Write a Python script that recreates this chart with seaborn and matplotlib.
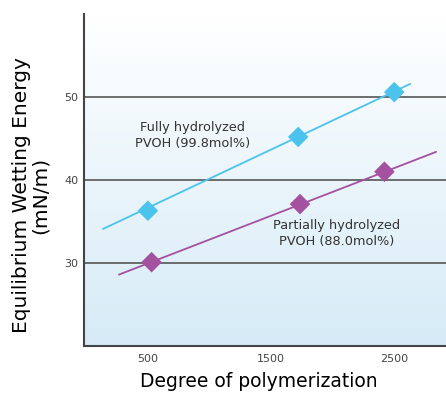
import numpy as np
import pandas as pd
import matplotlib
matplotlib.use("Agg")
import matplotlib.pyplot as plt
import seaborn as sns

# measured points
full_x = [500, 1720, 2500]
full_y = [36.3, 45.2, 50.6]
part_x = [530, 1735, 2420]
part_y = [30.1, 37.1, 41.0]

# trend line ends
full_line_x = [135, 2630]
full_line_y = [34.1, 51.6]
part_line_x = [265, 2840]
part_line_y = [28.6, 43.4]

x_ticks = [500, 1500, 2500]
y_ticks = [30, 40, 50]

CYAN = "#4cc3ec"
MAGENTA = "#a4519f"

sns.set_theme(style="white")
plt.rcParams["font.family"] = ["DejaVu Sans"]

fig = plt.figure(figsize=(4.46, 3.94), dpi=100)
ax = fig.add_axes([0.188, 0.122, 0.812, 0.842])

# background gradient: white at top, light blue at bottom
grad = np.linspace(0, 1, 256).reshape(-1, 1)
cmap = matplotlib.colors.LinearSegmentedColormap.from_list("bg", ["#d6ebf7", "#ffffff"])
ax.imshow(grad, aspect="auto", cmap=cmap, origin="lower",
          extent=[-20, 2920, 20, 60], zorder=0)

for y in y_ticks:
    ax.axhline(y, color="#555555", lw=1.2, zorder=1)

sns.lineplot(x=full_line_x, y=full_line_y, ax=ax, color=CYAN, lw=1.3, zorder=2)
sns.lineplot(x=part_line_x, y=part_line_y, ax=ax, color=MAGENTA, lw=1.3, zorder=2)
sns.scatterplot(x=full_x, y=full_y, ax=ax, color=CYAN, marker="D", s=110,
                edgecolor="none", zorder=3)
sns.scatterplot(x=part_x, y=part_y, ax=ax, color=MAGENTA, marker="D", s=110,
                edgecolor="none", zorder=3)

ax.text(866, 45.4, "Fully hydrolyzed\nPVOH (99.8mol%)", ha="center", va="center",
        fontsize=9.3, color="#333333", linespacing=1.3)
ax.text(2030, 33.5, "Partially hydrolyzed\nPVOH (88.0mol%)", ha="center", va="center",
        fontsize=9.3, color="#333333", linespacing=1.3)

ax.set_xlim(-20, 2920)
ax.set_ylim(20, 60)
ax.set_xticks(x_ticks)
ax.set_yticks(y_ticks)
ax.set_xticklabels([str(v) for v in x_ticks], fontsize=8, color="#444444")
ax.set_yticklabels([str(v) for v in y_ticks], fontsize=8, color="#444444")
ax.tick_params(axis="x", direction="in", length=5, width=1.5, color="#444444", pad=6)
ax.tick_params(axis="y", length=0, pad=4)

for side in ["top", "right"]:
    ax.spines[side].set_visible(False)
for side in ["left", "bottom"]:
    ax.spines[side].set_color("#444444")
    ax.spines[side].set_linewidth(1.5)

ax.set_xlabel("Degree of polymerization", fontsize=13.5, color="black", va="top")
ax.set_ylabel("Equilibrium Wetting Energy\n(mN/m)", fontsize=14.5, color="black",
              linespacing=1.0)
ax.xaxis.set_label_coords(0.483, -0.078)
ax.yaxis.set_label_coords(-0.094, 0.455)

fig.savefig("out.png", dpi=100)
